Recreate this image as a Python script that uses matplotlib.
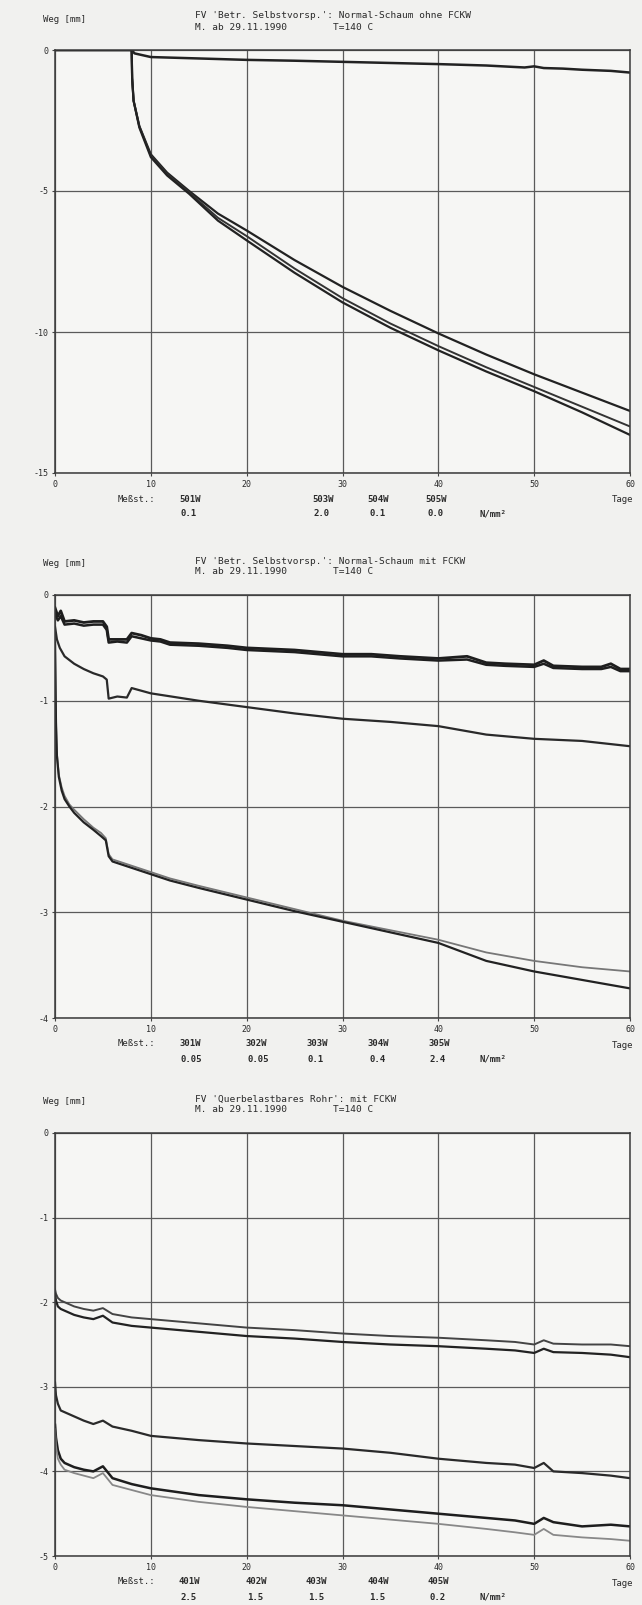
import matplotlib
matplotlib.use("Agg")
import matplotlib.pyplot as plt

plt.rcParams["axes.unicode_minus"] = False

# ---- panel 1: Normal-Schaum ohne FCKW ----
p1_days_501 = [0, 8, 8.3, 10, 15, 20, 25, 30, 35, 40, 45, 49, 50, 51, 53, 55, 58, 60]
p1_501 = [0, 0, -0.12, -0.25, -0.3, -0.35, -0.38, -0.42, -0.46, -0.5, -0.55, -0.62, -0.58, -0.64, -0.66, -0.7, -0.74, -0.8]
p1_days = [0, 8, 8.05, 8.2, 8.8, 10, 11.7, 14, 17, 20, 25, 30, 35, 40, 45, 50, 55, 60]
p1_503 = [0, 0, -1.0, -1.8, -2.7, -3.7, -4.35, -5.0, -5.8, -6.4, -7.45, -8.4, -9.25, -10.05, -10.8, -11.5, -12.15, -12.8]
p1_504 = [0, 0, -1.0, -1.8, -2.7, -3.75, -4.4, -5.05, -5.95, -6.6, -7.75, -8.8, -9.7, -10.5, -11.25, -11.95, -12.65, -13.35]
p1_505 = [0, 0, -1.0, -1.8, -2.75, -3.8, -4.45, -5.1, -6.05, -6.75, -7.9, -8.95, -9.85, -10.65, -11.4, -12.1, -12.85, -13.65]

# ---- panel 2: Normal-Schaum mit FCKW ----
p2_days_top = [0, 0.3, 0.6, 1, 2, 3, 4, 5, 5.4, 5.6, 6.5, 7.5, 8, 9, 10, 11, 12, 15, 18, 20, 25, 30, 33, 36, 40, 43,
               45, 47, 50, 51, 52, 55, 57, 58, 59, 60]
p2_301 = [-0.12, -0.2, -0.15, -0.25, -0.24, -0.26, -0.25, -0.25, -0.3, -0.42, -0.42, -0.42, -0.36, -0.38, -0.41, -0.42,
          -0.45, -0.46, -0.48, -0.5, -0.52, -0.56, -0.56, -0.58, -0.6, -0.58, -0.64, -0.65, -0.66, -0.62, -0.67, -0.68,
          -0.68, -0.65, -0.7, -0.7]
p2_302 = [-0.18, -0.24, -0.2, -0.28, -0.27, -0.29, -0.28, -0.28, -0.33, -0.45, -0.44, -0.45, -0.39, -0.41, -0.43, -0.44,
          -0.47, -0.48, -0.5, -0.52, -0.54, -0.58, -0.58, -0.6, -0.62, -0.61, -0.66, -0.67, -0.68, -0.65, -0.69, -0.7,
          -0.7, -0.68, -0.72, -0.72]
p2_days_mid = [0, 0.2, 0.5, 1, 2, 3, 4, 5, 5.4, 5.6, 6.5, 7.5, 8, 10, 15, 20, 25, 30, 35, 40, 45, 50, 55, 60]
p2_303 = [-0.3, -0.42, -0.5, -0.58, -0.65, -0.7, -0.74, -0.77, -0.8, -0.98, -0.96, -0.97, -0.88, -0.93, -1.0, -1.06,
          -1.12, -1.17, -1.2, -1.24, -1.32, -1.36, -1.38, -1.43]
p2_days_low = [0, 0.1, 0.2, 0.4, 0.7, 1, 1.5, 2, 3, 4, 4.8, 5.3, 5.6, 6, 7, 8, 10, 12, 15, 20, 25, 30, 35, 40, 45, 50,
               55, 60]
p2_304 = [-0.45, -1.2, -1.5, -1.7, -1.82, -1.9, -1.98, -2.03, -2.12, -2.2, -2.25, -2.3, -2.45, -2.5, -2.53, -2.56,
          -2.62, -2.68, -2.75, -2.86, -2.97, -3.08, -3.17, -3.26, -3.38, -3.46, -3.52, -3.56]
p2_305 = [-0.45, -1.2, -1.52, -1.72, -1.85, -1.93, -2.0, -2.06, -2.15, -2.22, -2.28, -2.32, -2.47, -2.52, -2.55, -2.58,
          -2.64, -2.7, -2.77, -2.88, -2.99, -3.09, -3.19, -3.29, -3.46, -3.56, -3.64, -3.72]

# ---- panel 3: Querbelastbares Rohr mit FCKW ----
p3_days = [0, 0.1, 0.3, 0.6, 1, 2, 3, 4, 5, 6, 8, 10, 15, 20, 25, 30, 35, 40, 45, 48, 50, 51, 52, 55, 58, 60]
p3_401 = [-1.85, -1.9, -1.95, -1.98, -2.0, -2.05, -2.08, -2.1, -2.07, -2.14, -2.18, -2.2, -2.25, -2.3, -2.33, -2.37,
          -2.4, -2.42, -2.45, -2.47, -2.5, -2.45, -2.49, -2.5, -2.5, -2.52]
p3_402 = [-1.9, -1.98, -2.05, -2.08, -2.1, -2.15, -2.18, -2.2, -2.16, -2.24, -2.28, -2.3, -2.35, -2.4, -2.43, -2.47,
          -2.5, -2.52, -2.55, -2.57, -2.6, -2.55, -2.59, -2.6, -2.62, -2.65]
p3_403 = [-2.95, -3.1, -3.2, -3.28, -3.3, -3.35, -3.4, -3.44, -3.4, -3.47, -3.52, -3.58, -3.63, -3.67, -3.7, -3.73,
          -3.78, -3.85, -3.9, -3.92, -3.96, -3.9, -4.0, -4.02, -4.05, -4.08]
p3_404 = [-3.45, -3.6, -3.75, -3.85, -3.9, -3.95, -3.98, -4.0, -3.94, -4.08, -4.15, -4.2, -4.28, -4.33, -4.37, -4.4,
          -4.45, -4.5, -4.55, -4.58, -4.62, -4.55, -4.6, -4.65, -4.63, -4.65]
p3_405 = [-3.5, -3.7, -3.85, -3.92, -3.98, -4.02, -4.05, -4.08, -4.02, -4.16, -4.22, -4.28, -4.36, -4.42, -4.47, -4.52,
          -4.57, -4.62, -4.68, -4.72, -4.75, -4.68, -4.75, -4.78, -4.8, -4.82]

x_ticks = [0, 10, 20, 30, 40, 50, 60]

titles = ["FV 'Betr. Selbstvorsp.': Normal-Schaum ohne FCKW",
          "FV 'Betr. Selbstvorsp.': Normal-Schaum mit FCKW",
          "FV 'Querbelastbares Rohr': mit FCKW"]
y_ticks = [[0, -5, -10, -15], [0, -1, -2, -3, -4], [0, -1, -2, -3, -4, -5]]
stations = [["501W", "503W", "504W", "505W"],
            ["301W", "302W", "303W", "304W", "305W"],
            ["401W", "402W", "403W", "404W", "405W"]]
loads = [["0.1", "2.0", "0.1", "0.0"],
         ["0.05", "0.05", "0.1", "0.4", "2.4"],
         ["2.5", "1.5", "1.5", "1.5", "0.2"]]

W, H = 642, 1605
fig = plt.figure(figsize=(W / 100, H / 100), dpi=100)
fig.patch.set_facecolor("#f1f1ef")
mono = "DejaVu Sans Mono"
ink = "#2a2a2a"


def ftxt(x, y, s, **kw):
    fig.text(x / W, 1 - y / H, s, family=mono, color=ink, va="center", **kw)


ax_top = [50, 595, 1133]
ax_h = 423
ax_left, ax_right = 55, 630
col_x = [[179, 312, 367, 425], [179, 245, 306, 367, 428], [179, 245, 306, 367, 428]]

axes = []
for i in range(3):
    top = ax_top[i]
    ax = fig.add_axes([ax_left / W, 1 - (top + ax_h) / H, (ax_right - ax_left) / W, ax_h / H])
    ax.set_facecolor("#f6f6f4")
    ax.set_xlim(0, 60)
    ax.set_ylim(y_ticks[i][-1], 0)
    ax.set_xticks(x_ticks)
    ax.set_yticks(y_ticks[i])
    ax.grid(True, color="#5a5a5a", lw=0.9)
    ax.set_axisbelow(True)
    for sp in ax.spines.values():
        sp.set_color("#3a3a3a")
        sp.set_linewidth(1.1)
    ax.tick_params(length=2, width=0.8, color="#444", labelsize=6, labelcolor=ink, pad=3)
    for lab in ax.get_xticklabels() + ax.get_yticklabels():
        lab.set_family(mono)
    axes.append(ax)

    # header
    ftxt(43, top - 31, "Weg [mm]", fontsize=6.5)
    ftxt(195, top - 34, titles[i], fontsize=6.8)
    ftxt(195, top - 23, "M. ab 29.11.1990", fontsize=6.8)
    ftxt(333, top - 23, "T=140 C", fontsize=6.8)

    # footer
    b = top + ax_h
    ftxt(118, b + 26, "Meßst.:", fontsize=6.5)
    for xs, st, ld in zip(col_x[i], stations[i], loads[i]):
        ftxt(xs, b + 26, st, fontsize=6.5, weight="bold")
        ftxt(xs + 2, b + 41, ld, fontsize=6.5, weight="bold")
    ftxt(479, b + 41, "N/mm²", fontsize=6.5, weight="bold")
    ftxt(612, b + 27, "Tage", fontsize=6.5)

ax1, ax2, ax3 = axes
ax1.plot(p1_days_501, p1_501, color="#222", lw=1.8)
ax1.plot(p1_days, p1_503, color="#222", lw=1.6)
ax1.plot(p1_days, p1_504, color="#333", lw=1.4)
ax1.plot(p1_days, p1_505, color="#222", lw=1.6)

ax2.plot(p2_days_top, p2_301, color="#1e1e1e", lw=2.0)
ax2.plot(p2_days_top, p2_302, color="#1e1e1e", lw=1.8)
ax2.plot(p2_days_mid, p2_303, color="#2a2a2a", lw=1.6)
ax2.plot(p2_days_low, p2_304, color="#777", lw=1.3)
ax2.plot(p2_days_low, p2_305, color="#222", lw=1.6)

ax3.plot(p3_days, p3_401, color="#444", lw=1.4)
ax3.plot(p3_days, p3_402, color="#222", lw=1.6)
ax3.plot(p3_days, p3_403, color="#2a2a2a", lw=1.6)
ax3.plot(p3_days, p3_404, color="#1e1e1e", lw=1.8)
ax3.plot(p3_days, p3_405, color="#888", lw=1.3)

fig.savefig("out.png", dpi=100, facecolor=fig.get_facecolor())
